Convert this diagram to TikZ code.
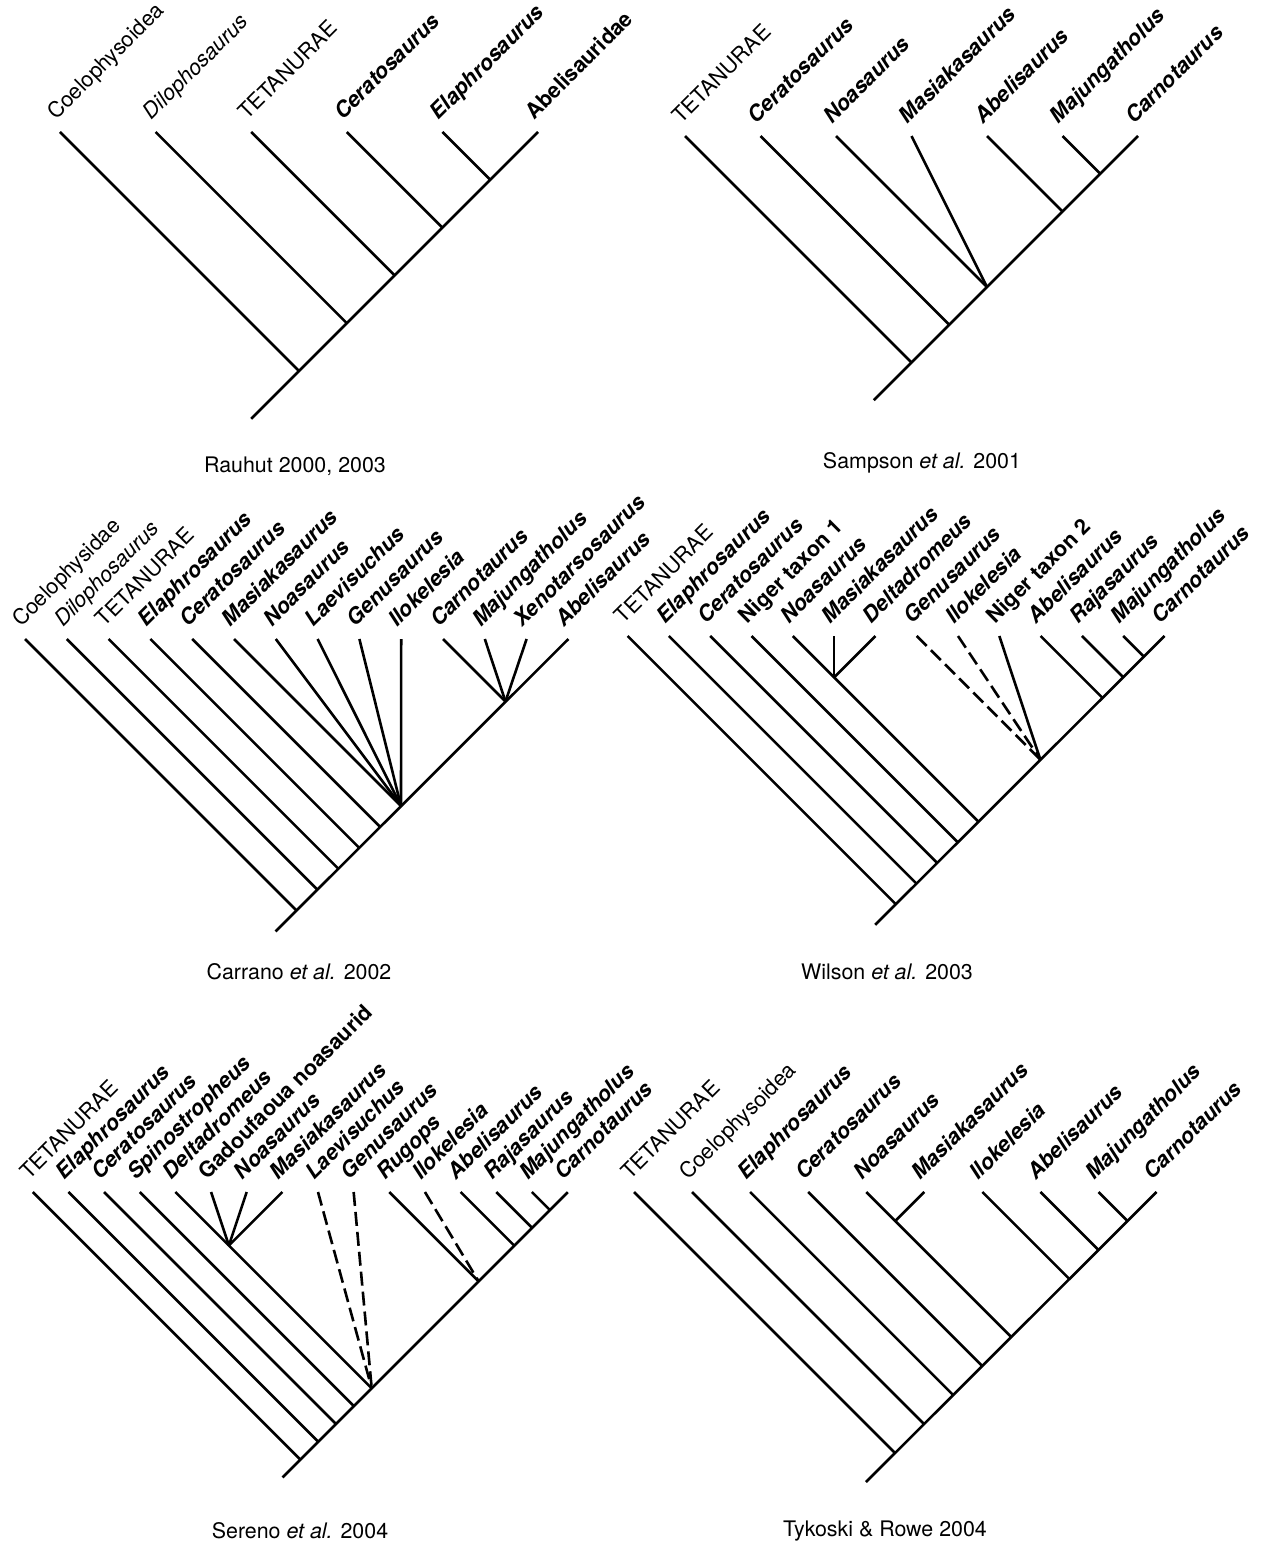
\documentclass[tikz,border=0pt]{standalone}
\usepackage{fontspec}
\setmainfont{TeX Gyre Heros}
\usetikzlibrary{calc}
\newcommand\gbi[1]{\textbf{\textit{#1}}}
\newcommand\gbu[1]{\textbf{#1}}
\newcommand\mkpanel[6]{%
  \foreach \i in {-1,...,#6}{%
    \pgfmathsetmacro\lx{#2+\i*#3}%
    \pgfmathsetmacro\nx{(#5+\lx-#4)/2}%
    \pgfmathsetmacro\ny{(#5-\lx+#4)/2}%
    \coordinate (#1l\i) at (\lx,#4);
    \coordinate (#1n\i) at (\nx,\ny);
  }}
\begin{document}
\begin{tikzpicture}[x=0.5pt,y=-0.5pt,
  br/.style={line width=1.3pt},
  dbr/.style={br, dash pattern=on 7pt off 3pt},
  lab/.style={rotate=45, anchor=base west, inner sep=0pt, font=\fontsize{10.8}{12}\selectfont},
  captext/.style={inner sep=0pt, font=\fontsize{10.7}{12}\selectfont}]
\useasboundingbox (0,0) rectangle (1266,1545);
\fill[white] (0,0) rectangle (1266,1545);

% ---------- Panel A: Rauhut ----------
\mkpanel{A}{60}{95.6}{132}{670}{5}
\foreach \i/\t in {0/{Coelophysoidea},1/{\textit{Dilophosaurus}},2/{TETANURAE},
  3/{\gbi{Ceratosaurus}},4/{\gbi{Elaphrosaurus}},5/{\gbu{Abelisauridae}}}
  \node[lab] (At\i) at ([shift={(-4,-11)}]Al\i) {\t};
\foreach \i in {0,...,4} \draw[br] (Al\i) -- (An\i);
\draw[br] (An-1) -- (Al5);
\node[captext] (capA) at (295,466) {Rauhut 2000, 2003};

% ---------- Panel B: Sampson ----------
\mkpanel{B}{685}{75.5}{136}{1274}{6}
\foreach \i/\t in {0/{TETANURAE},1/{\gbi{Ceratosaurus}},2/{\gbi{Noasaurus}},
  3/{\gbi{Masiakasaurus}},4/{\gbi{Abelisaurus}},5/{\gbi{Majungatholus}},6/{\gbi{Carnotaurus}}}
  \node[lab] (Bt\i) at ([shift={(-4,-11)}]Bl\i) {\t};
\foreach \i in {0,1,2,4,5} \draw[br] (Bl\i) -- (Bn\i);
\draw[br] (Bl3) -- (Bn2);
\draw[br] (Bn-1) -- (Bl6);
\node[captext] (capB) at (922,463) {Sampson \textit{et al.} 2001};

% ---------- Panel C: Carrano ----------
\mkpanel{C}{25}{41.8}{639}{1207}{13}
\foreach \i/\t in {0/{Coelophysidae},1/{\textit{Dilophosaurus}},2/{TETANURAE},
  3/{\gbi{Elaphrosaurus}},4/{\gbi{Ceratosaurus}},5/{\gbi{Masiakasaurus}},
  6/{\gbi{Noasaurus}},7/{\gbi{Laevisuchus}},8/{\gbi{Genusaurus}},9/{\gbi{Ilokelesia}},
  10/{\gbi{Carnotaurus}},11/{\gbi{Majungatholus}},12/{\gbi{Xenotarsosaurus}},13/{\gbi{Abelisaurus}}}
  \node[lab] (Ct\i) at ([shift={(-4,-11)}]Cl\i) {\t};
\foreach \i in {0,1,2,3,4,5,10} \draw[br] (Cl\i) -- (Cn\i);
\foreach \i in {6,7,8,9} \draw[br] (Cl\i) -- (Cn5);
\foreach \i in {11,12} \draw[br] (Cl\i) -- (Cn10);
\draw[br] (Cn-1) -- (Cl13);
\node[captext] (capC) at (299,972) {Carrano \textit{et al.} 2002};

% ---------- Panel D: Wilson ----------
\mkpanel{D}{627.6}{41.3}{636}{1800}{13}
\foreach \i/\t in {0/{TETANURAE},1/{\gbi{Elaphrosaurus}},2/{\gbi{Ceratosaurus}},
  3/{\gbu{Niger taxon 1}},4/{\gbi{Noasaurus}},5/{\gbi{Masiakasaurus}},6/{\gbi{Deltadromeus}},
  7/{\gbi{Genusaurus}},8/{\gbi{Ilokelesia}},9/{\gbu{Niger taxon 2}},10/{\gbi{Abelisaurus}},
  11/{\gbi{Rajasaurus}},12/{\gbi{Majungatholus}},13/{\gbi{Carnotaurus}}}
  \node[lab] (Dt\i) at ([shift={(-4,-11)}]Dl\i) {\t};
\coordinate (Dm) at ($(Dl5)+(0,41.3)$);
\foreach \i in {0,1,2,3,4,10,11,12} \draw[br] (Dl\i) -- (Dn\i);
\draw[br] (Dl5) -- (Dm);
\draw[br] (Dl6) -- (Dm);
\draw[dbr] (Dl7) -- (Dn7);
\draw[dbr] (Dl8) -- (Dn7);
\draw[br] (Dl9) -- (Dn7);
\draw[br] (Dn-1) -- (Dl13);
\node[captext] (capD) at (887,972) {Wilson \textit{et al.} 2003};

% ---------- Panel E: Sereno ----------
\mkpanel{E}{32.8}{35.65}{1192}{1760}{15}
\foreach \i/\t in {0/{TETANURAE},1/{\gbi{Elaphrosaurus}},2/{\gbi{Ceratosaurus}},
  3/{\gbi{Spinostropheus}},4/{\gbi{Deltadromeus}},5/{\gbu{Gadoufaoua noasaurid}},
  6/{\gbi{Noasaurus}},7/{\gbi{Masiakasaurus}},8/{\gbi{Laevisuchus}},9/{\gbi{Genusaurus}},
  10/{\gbi{Rugops}},11/{\gbi{Ilokelesia}},12/{\gbi{Abelisaurus}},13/{\gbi{Rajasaurus}},
  14/{\gbi{Majungatholus}},15/{\gbi{Carnotaurus}}}
  \node[lab] (Et\i) at ([shift={(-4,-11)}]El\i) {\t};
\coordinate (Eq) at ($(El4)!0.5!(El7)+(0,53.475)$);
\foreach \i in {0,1,2,3,4,10,12,13,14} \draw[br] (El\i) -- (En\i);
\foreach \i in {5,6,7} \draw[br] (El\i) -- (Eq);
\foreach \i in {8,9} \draw[dbr] (El\i) -- (En4);
\draw[dbr] (El11) -- (En10);
\draw[br] (En-1) -- (En15);
\node[captext] (capE) at (300,1531) {Sereno \textit{et al.} 2004};

% ---------- Panel F: Tykoski & Rowe ----------
\mkpanel{F}{634}{58.06}{1192}{2348}{9}
\foreach \i/\t in {0/{TETANURAE},1/{Coelophysoidea},2/{\gbi{Elaphrosaurus}},
  3/{\gbi{Ceratosaurus}},4/{\gbi{Noasaurus}},5/{\gbi{Masiakasaurus}},6/{\gbi{Ilokelesia}},
  7/{\gbi{Abelisaurus}},8/{\gbi{Majungatholus}},9/{\gbi{Carnotaurus}}}
  \node[lab] (Ft\i) at ([shift={(-4,-11)}]Fl\i) {\t};
\coordinate (Fm) at ($(Fl4)!0.5!(Fl5)+(0,29.03)$);
\foreach \i in {0,1,2,3,4,6,7,8} \draw[br] (Fl\i) -- (Fn\i);
\draw[br] (Fl5) -- (Fm);
\draw[br] (Fn-1) -- (Fl9);
\node[captext] (capF) at (885,1531) {Tykoski \& Rowe 2004};
\end{tikzpicture}
\end{document}
